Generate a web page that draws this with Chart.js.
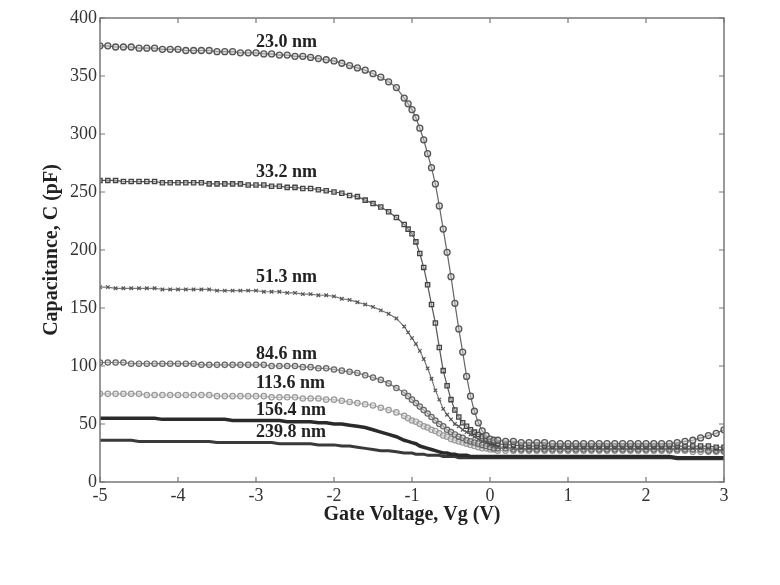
<!DOCTYPE html>
<html>
<head>
<meta charset="utf-8">
<script src="https://cdn.jsdelivr.net/npm/chart.js@4/dist/chart.umd.min.js"></script>
<style>
  body { margin: 0; background: #fff; }
  #wrap { width: 780px; height: 585px; position: relative; }
</style>
</head>
<body>
<div id="wrap"><canvas id="cvChart"></canvas></div>
<script>
// gate voltage (V): 0.1 V steps, 0.05 V steps through the transition
const gateVoltage = [
  -5.0, -4.9, -4.8, -4.7, -4.6, -4.5, -4.4, -4.3, -4.2, -4.1,
  -4.0, -3.9, -3.8, -3.7, -3.6, -3.5, -3.4, -3.3, -3.2, -3.1,
  -3.0, -2.9, -2.8, -2.7, -2.6, -2.5, -2.4, -2.3, -2.2, -2.1,
  -2.0, -1.9, -1.8, -1.7, -1.6, -1.5, -1.4, -1.3, -1.2,
  -1.1, -1.05, -1.0, -0.95, -0.9, -0.85, -0.8, -0.75, -0.7, -0.65,
  -0.6, -0.55, -0.5, -0.45, -0.4, -0.35, -0.3, -0.25, -0.2, -0.15,
  -0.1, -0.05, 0, 0.05, 0.1,
  0.2, 0.3, 0.4, 0.5, 0.6, 0.7, 0.8, 0.9, 1.0,
  1.1, 1.2, 1.3, 1.4, 1.5, 1.6, 1.7, 1.8, 1.9, 2.0,
  2.1, 2.2, 2.3, 2.4, 2.5, 2.6, 2.7, 2.8, 2.9, 3.0
];

// capacitance (pF) per oxide thickness
const cap230 = [
  376, 376, 375, 375, 375, 374, 374, 374, 373, 373,
  373, 372, 372, 372, 372, 371, 371, 371, 370, 370,
  370, 369, 369, 368, 368, 367, 367, 366, 365, 364,
  363, 361, 359, 357, 355, 352, 349, 345, 340,
  331, 326, 321, 314, 305, 295, 283, 271, 257, 238,
  218, 198, 177, 154, 132, 112, 91, 74, 61, 51,
  44, 40, 37, 36, 36,
  35, 35, 34, 34, 34, 34, 33, 33, 33,
  33, 33, 33, 33, 33, 33, 33, 33, 33, 33,
  33, 33, 33, 34, 35, 36, 38, 40, 42, 45
];
const cap332 = [
  260, 260, 260, 259, 259, 259, 259, 259, 258, 258,
  258, 258, 258, 258, 257, 257, 257, 257, 257, 256,
  256, 256, 255, 255, 254, 254, 253, 253, 252, 251,
  250, 249, 247, 246, 243, 240, 237, 233, 228,
  222, 218, 214, 207, 197, 185, 170, 153, 137, 116,
  96, 83, 71, 62, 56, 51, 48, 45, 43, 41,
  39, 37, 35, 34, 33,
  32, 32, 31, 31, 31, 31, 31, 31, 31,
  31, 31, 31, 31, 31, 31, 31, 31, 31, 31,
  31, 31, 31, 31, 31, 31, 31, 31, 30, 30
];
const cap513 = [
  168, 168, 167, 167, 167, 167, 167, 167, 166, 166,
  166, 166, 166, 166, 166, 165, 165, 165, 165, 165,
  165, 164, 164, 164, 163, 163, 162, 162, 161, 161,
  160, 158, 157, 155, 153, 151, 148, 145, 141,
  134, 129, 124, 119, 113, 106, 98, 89, 79, 71,
  63, 58, 54, 50, 48, 45, 43, 41, 39, 37,
  35, 34, 32, 31, 30,
  30, 29, 29, 29, 29, 29, 29, 29, 29,
  29, 29, 29, 29, 29, 29, 29, 29, 29, 29,
  29, 29, 29, 29, 29, 29, 29, 29, 28, 28
];
const cap846 = [
  103, 103, 103, 103, 102, 102, 102, 102, 102, 102,
  102, 102, 102, 101, 101, 101, 101, 101, 101, 101,
  101, 101, 100, 100, 100, 100, 99, 99, 98, 98,
  97, 96, 95, 94, 92, 90, 88, 85, 81,
  77, 74, 71, 68, 65, 62, 59, 56, 53, 50,
  48, 45, 43, 41, 39, 38, 36, 35, 34, 33,
  32, 31, 30, 29, 29,
  29, 28, 28, 28, 28, 28, 28, 28, 28,
  28, 28, 28, 28, 28, 28, 28, 28, 28, 28,
  28, 28, 28, 28, 28, 28, 28, 27, 27, 27
];
const cap1136 = [
  76, 76, 76, 76, 76, 76, 75, 75, 75, 75,
  75, 75, 75, 75, 75, 74, 74, 74, 74, 74,
  74, 74, 73, 73, 73, 73, 72, 72, 72, 71,
  71, 70, 69, 68, 67, 66, 64, 62, 60,
  57, 55, 53, 52, 50, 48, 47, 45, 44, 42,
  40, 39, 37, 36, 35, 34, 33, 32, 31, 30,
  29, 29, 28, 28, 27,
  27, 27, 27, 27, 27, 27, 27, 27, 27,
  27, 27, 27, 27, 27, 27, 27, 27, 27, 27,
  27, 27, 27, 27, 27, 26, 26, 26, 26, 26
];
const cap1564 = [
  55, 55, 55, 55, 55, 55, 55, 55, 54, 54,
  54, 54, 54, 54, 54, 54, 54, 53, 53, 53,
  53, 53, 53, 53, 52, 52, 52, 52, 51, 51,
  50, 50, 49, 48, 47, 45, 43, 41, 39,
  36, 35, 34, 33, 31, 30, 29, 28, 27, 26,
  25, 25, 24, 24, 23, 23, 23, 22, 22, 22,
  22, 22, 22, 22, 22,
  22, 22, 22, 22, 22, 22, 22, 22, 22,
  22, 22, 22, 22, 22, 22, 22, 22, 22, 22,
  22, 22, 22, 21, 21, 21, 21, 21, 21, 21
];
const cap2398 = [
  36, 36, 36, 36, 36, 35, 35, 35, 35, 35,
  35, 35, 35, 35, 35, 34, 34, 34, 34, 34,
  34, 34, 34, 33, 33, 33, 33, 33, 32, 32,
  32, 31, 31, 30, 29, 28, 27, 27, 26,
  25, 25, 25, 24, 24, 24, 23, 23, 23, 23,
  22, 22, 22, 22, 21, 21, 21, 21, 21, 21,
  21, 21, 21, 21, 21,
  21, 21, 21, 21, 21, 21, 21, 21, 21,
  21, 21, 21, 21, 21, 21, 21, 21, 21, 21,
  21, 21, 21, 20, 20, 20, 20, 20, 20, 20
];

const curveLabels = ['23.0 nm', '33.2 nm', '51.3 nm', '84.6 nm', '113.6 nm', '156.4 nm', '239.8 nm'];
// label anchor in data units (left edge, vertical middle)
const labelVg = [-3.0, -3.0, -3.0, -3.0, -3.0, -3.0, -3.0];
const labelCap = [379, 267, 176, 110, 85, 62, 43];

const toXY = arr => gateVoltage.map((v, i) => ({ x: v, y: arr[i] }));

const serif = "'Liberation Serif', 'Times New Roman', serif";

// box round the plot with inward ticks on all four sides
const frameTicks = {
  id: 'frameTicks',
  afterDraw(chart) {
    const { ctx, chartArea: a, scales } = chart;
    ctx.save();
    ctx.strokeStyle = '#777';
    ctx.lineWidth = 1.5;
    ctx.strokeRect(a.left, a.top, a.right - a.left, a.bottom - a.top);
    ctx.lineWidth = 1.2;
    ctx.beginPath();
    scales.x.ticks.forEach(t => {
      const px = scales.x.getPixelForValue(t.value);
      ctx.moveTo(px, a.bottom); ctx.lineTo(px, a.bottom - 5);
      ctx.moveTo(px, a.top); ctx.lineTo(px, a.top + 5);
    });
    scales.y.ticks.forEach(t => {
      const py = scales.y.getPixelForValue(t.value);
      ctx.moveTo(a.left, py); ctx.lineTo(a.left + 5, py);
      ctx.moveTo(a.right, py); ctx.lineTo(a.right - 5, py);
    });
    ctx.stroke();
    ctx.restore();
  }
};

// thickness labels next to each curve
const curveText = {
  id: 'curveText',
  afterDatasetsDraw(chart) {
    const { ctx, scales } = chart;
    ctx.save();
    ctx.font = 'bold 18px ' + serif;
    ctx.fillStyle = '#222';
    ctx.textAlign = 'left';
    ctx.textBaseline = 'middle';
    curveLabels.forEach((txt, i) => {
      ctx.fillText(txt, scales.x.getPixelForValue(labelVg[i]), scales.y.getPixelForValue(labelCap[i]));
    });
    ctx.restore();
  }
};

new Chart(document.getElementById('cvChart'), {
  type: 'line',
  data: {
    datasets: [
      { label: '23.0 nm', data: toXY(cap230), borderColor: '#666', borderWidth: 1.2,
        pointStyle: 'circle', pointRadius: 3, pointBorderColor: '#555', pointBackgroundColor: 'rgba(200,200,200,0.5)', pointBorderWidth: 1.3 },
      { label: '33.2 nm', data: toXY(cap332), borderColor: '#555', borderWidth: 1.2,
        pointStyle: 'rect', pointRadius: 3, pointBorderColor: '#444', pointBackgroundColor: 'rgba(200,200,200,0.5)', pointBorderWidth: 1.3 },
      { label: '51.3 nm', data: toXY(cap513), borderColor: '#777', borderWidth: 1.2,
        pointStyle: 'crossRot', pointRadius: 2.5, pointBorderColor: '#555', pointBorderWidth: 1.2 },
      { label: '84.6 nm', data: toXY(cap846), borderColor: '#777', borderWidth: 1.2,
        pointStyle: 'circle', pointRadius: 2.7, pointBorderColor: '#666', pointBackgroundColor: 'rgba(200,200,200,0.5)', pointBorderWidth: 1.2 },
      { label: '113.6 nm', data: toXY(cap1136), borderColor: '#aaa', borderWidth: 1.2,
        pointStyle: 'circle', pointRadius: 2.7, pointBorderColor: '#999', pointBackgroundColor: 'rgba(220,220,220,0.5)', pointBorderWidth: 1.2 },
      { label: '156.4 nm', data: toXY(cap1564), borderColor: '#2a2a2a', borderWidth: 3.5,
        pointRadius: 0 },
      { label: '239.8 nm', data: toXY(cap2398), borderColor: '#3a3a3a', borderWidth: 3,
        pointRadius: 0 }
    ]
  },
  options: {
    responsive: true,
    maintainAspectRatio: false,
    animation: false,
    layout: { padding: { top: 18, right: 56, left: 0, bottom: 0 } },
    plugins: {
      legend: { display: false },
      tooltip: { enabled: false }
    },
    scales: {
      x: {
        type: 'linear',
        min: -5, max: 3,
        grid: { display: false, drawTicks: false },
        border: { display: false },
        ticks: { stepSize: 1, color: '#333', padding: 3, font: { family: serif, size: 18 } },
        title: { display: true, text: 'Gate Voltage, Vg (V)', color: '#222',
                 font: { family: serif, size: 20, weight: 'bold' }, padding: { top: 0, bottom: 58 } },
        afterFit: s => { s.height = 103; }
      },
      y: {
        min: 0, max: 400,
        grid: { display: false, drawTicks: false },
        border: { display: false },
        ticks: { stepSize: 50, color: '#333', padding: 3, font: { family: serif, size: 18 } },
        title: { display: true, text: 'Capacitance, C (pF)', color: '#222',
                 font: { family: serif, size: 20, weight: 'bold' }, padding: { top: 40, bottom: 0 } },
        afterFit: s => { s.width = 100; }
      }
    }
  },
  plugins: [frameTicks, curveText]
});
</script>
</body>
</html>
